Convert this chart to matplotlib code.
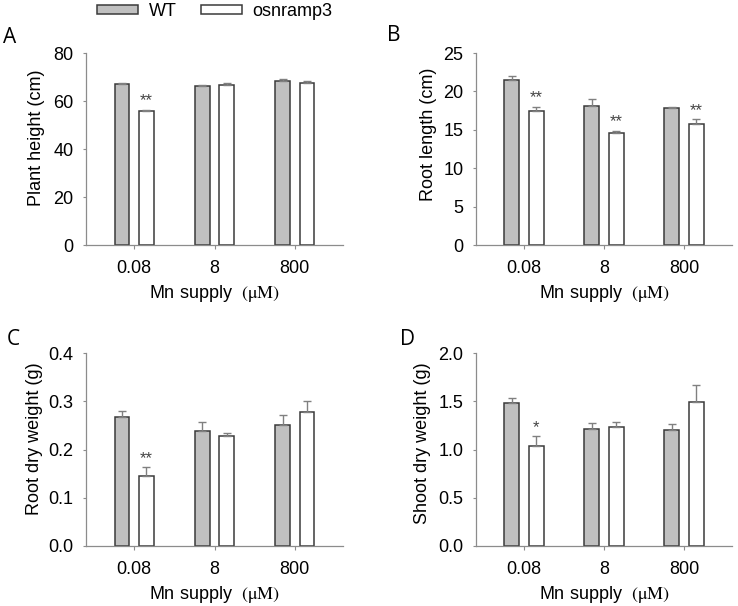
import numpy as np
import matplotlib.pyplot as plt

plt.rcParams['font.family'] = ['Liberation Sans', 'DejaVu Sans']
plt.rcParams['mathtext.fontset'] = 'stix'

# data
supply = ['0.08', '8', '800']
groups = ['WT', 'osnramp3']

height_wt = [67.0, 66.2, 68.5]
height_wt_err = [0.5, 0.5, 0.8]
height_mut = [55.8, 66.8, 67.5]
height_mut_err = [0.6, 0.8, 1.0]
height_sig = ['**', '', '']

root_wt = [21.5, 18.1, 17.8]
root_wt_err = [0.55, 0.9, 0.2]
root_mut = [17.5, 14.6, 15.7]
root_mut_err = [0.5, 0.3, 0.65]
root_sig = ['**', '**', '**']

rdw_wt = [0.268, 0.239, 0.250]
rdw_wt_err = [0.011, 0.017, 0.021]
rdw_mut = [0.146, 0.227, 0.277]
rdw_mut_err = [0.017, 0.007, 0.023]
rdw_sig = ['**', '', '']

sdw_wt = [1.48, 1.21, 1.20]
sdw_wt_err = [0.055, 0.06, 0.06]
sdw_mut = [1.04, 1.23, 1.49]
sdw_mut_err = [0.097, 0.055, 0.177]
sdw_sig = ['*', '', '']

panels = [
    ('A', 'Plant height (cm)', height_wt, height_wt_err, height_mut, height_mut_err, height_sig,
     (0, 80), [0, 20, 40, 60, 80], '{:.0f}'),
    ('B', 'Root length (cm)', root_wt, root_wt_err, root_mut, root_mut_err, root_sig,
     (0, 25), [0, 5, 10, 15, 20, 25], '{:.0f}'),
    ('C', 'Root dry weight (g)', rdw_wt, rdw_wt_err, rdw_mut, rdw_mut_err, rdw_sig,
     (0, 0.4), [0.0, 0.1, 0.2, 0.3, 0.4], '{:.1f}'),
    ('D', 'Shoot dry weight (g)', sdw_wt, sdw_wt_err, sdw_mut, sdw_mut_err, sdw_sig,
     (0, 2.0), [0.0, 0.5, 1.0, 1.5, 2.0], '{:.1f}'),
]

W, H = 738, 606
# axes rectangles in figure fraction [left, bottom, width, height]
rects = [
    [86 / W, 1 - 245 / H, 257 / W, 192 / H],
    [476 / W, 1 - 245 / H, 256 / W, 192 / H],
    [86 / W, 1 - 546 / H, 257 / W, 193 / H],
    [476 / W, 1 - 546 / H, 256 / W, 193 / H],
]
# panel letter positions (pixels, baseline)
letter_pos = [(3, 43), (387, 41), (7, 345), (400, 345)]
# y label positions (axes fraction)
ylabel_pos = [(-0.16, 0.56), (-0.152, 0.578), (-0.167, 0.554), (-0.176, 0.534)]

fig = plt.figure(figsize=(7.38, 6.06), dpi=100)

x = np.arange(len(supply))
w = 0.185
off = 0.152
edge = '#3a3a3a'
spine_col = '#8c8c8c'
ekw = dict(ecolor='#808080', elinewidth=1.0, capsize=3, capthick=1.0)

for rect, p, lp, yl in zip(rects, panels, letter_pos, ylabel_pos):
    letter, ylab, wt, wt_err, mut, mut_err, sig, ylim, yt, fmt = p
    ax = fig.add_axes(rect)
    b1 = ax.bar(x - off, wt, w, color='#c0c0c0', edgecolor=edge, linewidth=1.1, label='WT',
                yerr=[np.zeros(3), wt_err], error_kw=ekw)
    b2 = ax.bar(x + off, mut, w, color='white', edgecolor=edge, linewidth=1.1, label='osnramp3',
                yerr=[np.zeros(3), mut_err], error_kw=ekw)
    for i, s in enumerate(sig):
        if s:
            ax.annotate(s, (x[i] + off, mut[i] + mut_err[i]), xytext=(0, 1), textcoords='offset points',
                        ha='center', va='bottom', fontsize=12, color='#444444')
    ax.set_xlim(-0.6, 2.6)
    ax.set_ylim(*ylim)
    ax.set_yticks(yt)
    ax.set_yticklabels([fmt.format(v) for v in yt])
    ax.set_xticks(x)
    ax.set_xticklabels(supply)
    ax.tick_params(axis='both', labelsize=13, colors=spine_col, labelcolor='black', length=3, width=0.8)
    ax.tick_params(axis='y', length=2, pad=7)
    ax.tick_params(axis='x', pad=8)
    for s in ['top', 'right']:
        ax.spines[s].set_visible(False)
    for s in ['left', 'bottom']:
        ax.spines[s].set_color(spine_col)
        ax.spines[s].set_linewidth(0.9)
    ax.set_ylabel(ylab, fontsize=13)
    ax.yaxis.set_label_coords(*yl)
    ax.set_xlabel(r'Mn supply  $(\mathrm{\mu M})$', fontsize=13, labelpad=4)
    fig.text(lp[0] / W, 1 - lp[1] / H, letter, fontsize=15, family=['Open Sans', 'DejaVu Sans'],
             ha='left', va='baseline')

fig.legend([b1, b2], groups, loc='center left', bbox_to_anchor=(0.110, 0.981), ncol=2, frameon=False,
           fontsize=13, handlelength=2.27, handleheight=0.33, columnspacing=1.3, handletextpad=0.6)

fig.savefig('out.png', dpi=100)
